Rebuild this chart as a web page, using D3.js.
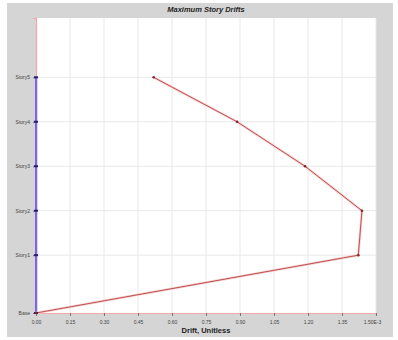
<!DOCTYPE html>
<html>
<head>
<meta charset="utf-8">
<script src="https://cdn.jsdelivr.net/npm/d3@7"></script>
<style>
  body { margin: 0; background: #fff; }
  text { font-family: "Liberation Sans", Arial, sans-serif; }
</style>
</head>
<body>
<div id="wrapper"></div>
<script>
// Story levels (elevation, m) and drifts (x1E-3)
const stories = ["Base", "Story1", "Story2", "Story3", "Story4", "Story5"];
const elevations = [0, 3.9, 6.9, 9.9, 12.9, 15.9];
const driftX = [0, 1.422, 1.438, 1.187, 0.887, 0.519];
const driftY = [0, 0, 0, 0, 0, 0];
const xTicks = [0, 0.15, 0.30, 0.45, 0.60, 0.75, 0.90, 1.05, 1.20, 1.35, 1.50];

const dimensions = {
    width: 398,
    height: 340,
    margin: { top: 18, right: 22, bottom: 27, left: 36 }
};
dimensions.boundedwidth = dimensions.width - dimensions.margin.left - dimensions.margin.right;
dimensions.boundedheight = dimensions.height - dimensions.margin.top - dimensions.margin.bottom;

const wrapper = d3.select("#wrapper")
    .append("svg")
    .attr("width", dimensions.width)
    .attr("height", dimensions.height);

// grey panel
wrapper.append("rect")
    .attr("x", 7).attr("y", 3)
    .attr("width", 386).attr("height", 334)
    .attr("fill", "#d5d5d5");

// title
wrapper.append("text")
    .attr("x", 206)
    .attr("y", 12)
    .attr("text-anchor", "middle")
    .attr("font-size", "7.5px")
    .attr("font-weight", "bold")
    .attr("font-style", "italic")
    .attr("fill", "#222")
    .text("Maximum Story Drifts");

const bounds = wrapper.append("g")
    .attr("transform", `translate(${dimensions.margin.left}, ${dimensions.margin.top})`);

bounds.append("rect")
    .attr("width", dimensions.boundedwidth)
    .attr("height", dimensions.boundedheight)
    .attr("fill", "#fff");

const xScale = d3.scaleLinear()
    .domain([0, 1.5])
    .range([0, dimensions.boundedwidth]);

const yScale = d3.scaleLinear()
    .domain([0, 19.9])
    .range([dimensions.boundedheight, 0]);

// grid
bounds.selectAll(".vgrid")
    .data(xTicks.slice(1))
    .enter().append("line")
    .attr("class", "vgrid")
    .attr("x1", d => xScale(d)).attr("x2", d => xScale(d))
    .attr("y1", 0).attr("y2", dimensions.boundedheight)
    .attr("stroke", "#e8e8e8")
    .attr("stroke-width", 1);

bounds.selectAll(".hgrid")
    .data(elevations.slice(1))
    .enter().append("line")
    .attr("class", "hgrid")
    .attr("x1", 0).attr("x2", dimensions.boundedwidth)
    .attr("y1", d => yScale(d)).attr("y2", d => yScale(d))
    .attr("stroke", "#e8e8e8")
    .attr("stroke-width", 1);

// axes
const xAxisGenerator = d3.axisBottom(xScale)
    .tickValues(xTicks)
    .tickSize(3)
    .tickFormat((d, i) => i === xTicks.length - 1 ? d3.format(".2f")(d) + "E-3" : d3.format(".2f")(d));

const xAxis = bounds.append("g")
    .attr("transform", `translate(0, ${dimensions.boundedheight})`)
    .call(xAxisGenerator);

const yAxisGenerator = d3.axisLeft(yScale)
    .tickValues(elevations)
    .tickSize(3)
    .tickFormat((d, i) => stories[i]);

const yAxis = bounds.append("g")
    .call(yAxisGenerator);

[xAxis, yAxis].forEach(ax => {
    ax.select(".domain").attr("stroke", "#f2a8a8").attr("stroke-width", 1.2);
    ax.selectAll(".tick line").attr("stroke", "#777");
    ax.selectAll(".tick text")
        .attr("font-size", "5px")
        .attr("fill", "#444")
        .style("font-family", "Liberation Sans, Arial, sans-serif");
});
xAxis.selectAll(".tick text").attr("dy", "0.9em");
xAxis.selectAll(".tick text").filter((d, i) => i === xTicks.length - 1).attr("dx", "-4");

// axis label
wrapper.append("text")
    .attr("x", 206)
    .attr("y", 333)
    .attr("text-anchor", "middle")
    .attr("font-size", "7.5px")
    .attr("font-weight", "bold")
    .attr("fill", "#222")
    .text("Drift, Unitless");

// series
const dataX = stories.map((s, i) => ({ elev: elevations[i], drift: driftX[i] }));
const dataY = stories.map((s, i) => ({ elev: elevations[i], drift: driftY[i] }));

const lineGenerator = d3.line()
    .x(d => xScale(d.drift))
    .y(d => yScale(d.elev));

bounds.append("path")
    .datum(dataY)
    .attr("d", lineGenerator)
    .attr("fill", "none")
    .attr("stroke", "#d6cbf2")
    .attr("stroke-width", 3.5);

bounds.append("path")
    .datum(dataY)
    .attr("d", lineGenerator)
    .attr("fill", "none")
    .attr("stroke", "#4a36b4")
    .attr("stroke-width", 1.3);

bounds.append("path")
    .datum(dataX)
    .attr("d", lineGenerator)
    .attr("fill", "none")
    .attr("stroke", "#f6d0d0")
    .attr("stroke-width", 2.5);

bounds.append("path")
    .datum(dataX)
    .attr("d", lineGenerator)
    .attr("fill", "none")
    .attr("stroke", "#c05050")
    .attr("stroke-width", 1);

bounds.selectAll(".y-marker")
    .data(dataY)
    .enter().append("rect")
    .attr("class", "y-marker")
    .attr("x", d => xScale(d.drift) - 2)
    .attr("y", d => yScale(d.elev) - 1)
    .attr("width", 4).attr("height", 2)
    .attr("fill", "#2a1a70");

bounds.selectAll(".x-marker")
    .data(dataX)
    .enter().append("circle")
    .attr("class", "x-marker")
    .attr("cx", d => xScale(d.drift))
    .attr("cy", d => yScale(d.elev))
    .attr("r", 1.3)
    .attr("fill", "#7a2a2a");
</script>
</body>
</html>
